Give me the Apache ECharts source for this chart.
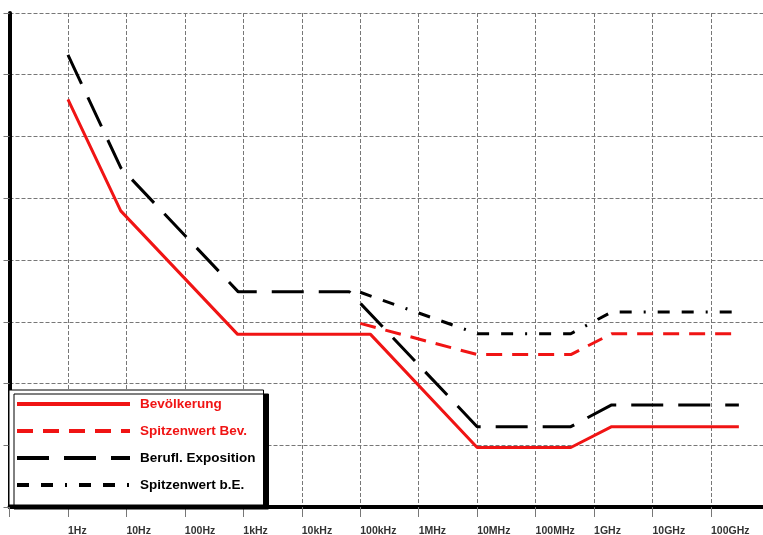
<!DOCTYPE html>
<html>
<head>
<meta charset="utf-8">
<script src="https://cdn.jsdelivr.net/npm/echarts@6/dist/echarts.min.js"></script>
<style>
html,body{margin:0;padding:0;background:#fff;}
#chart{width:763px;height:535px;}
</style>
</head>
<body>
<div id="chart"></div>
<script>
// Frequency tick labels (decades from 1 Hz to 100 GHz)
const tickLabels = ['1Hz','10Hz','100Hz','1kHz','10kHz','100kHz','1MHz','10MHz','100MHz','1GHz','10GHz','100GHz'];

// Series names
const seriesNames = ['Bevölkerung','Spitzenwert Bev.','Berufl. Exposition','Spitzenwert b.E.'];

// Bevölkerung: [frequency Hz, value]
const bevFreq  = [1, 8, 800, 1.5e5, 1e7, 4e8, 2e9, 3e11];
const bevVal   = [4e4, 625, 6.25, 6.25, 0.092, 0.092, 0.2, 0.2];

// Spitzenwert Bev.
const spBevFreq = [1e5, 1e7, 4e8, 2e9, 3e11];
const spBevVal  = [9.4, 2.94, 2.94, 6.4, 6.4];

// Berufl. Exposition
const berFreq = [1, 8, 820, 6.5e4, 1e7, 4e8, 2e9, 3e11];
const berVal  = [2.1e5, 3125, 30.5, 30.7, 0.2, 0.2, 0.45, 0.45];

// Spitzenwert b.E.
const spBeFreq = [1e5, 1e7, 4e8, 2e9, 3e11];
const spBeVal  = [30, 6.4, 6.4, 14.4, 14.4];

function pairs(f, v){ return f.map((x,i)=>[x, v[i]]); }

const RED = '#f01414';
const BLACK = '#000000';

const chart = echarts.init(document.getElementById('chart'), null, {renderer:'canvas'});

const gridLine = {show:true, lineStyle:{color:'#777', width:1, type:[4,2]}};

chart.setOption({
  animation:false,
  backgroundColor:'#ffffff',
  grid:{left:9.5, right:0, top:13, bottom:28, containLabel:false, outerBoundsMode:'none'},
  xAxis:{
    type:'log', logBase:10, min:0.1, max:7.76e11, interval:1,
    axisLine:{show:true, lineStyle:{color:'#000', width:4}},
    axisTick:{show:true, inside:false, length:10, lineStyle:{color:'#777', width:1}},
    splitLine:gridLine,
    axisLabel:{
      show:true, margin:19, align:'left',
      color:'#333', fontFamily:'Liberation Sans, Arial, sans-serif', fontSize:10.5, fontWeight:'bold',
      formatter:function(v){
        const e = Math.log10(v);
        const k = Math.round(e);
        if (Math.abs(e-k) > 0.01) return '';
        return (k>=0 && k<tickLabels.length) ? tickLabels[k] : '';
      }
    }
  },
  yAxis:{
    type:'log', logBase:10, min:0.01, max:1e6, interval:1,
    axisLine:{show:true, lineStyle:{color:'#000', width:4}},
    axisTick:{show:true, inside:false, length:6, lineStyle:{color:'#777', width:1}},
    splitLine:gridLine,
    axisLabel:{show:false}
  },
  legend:{
    show:true, orient:'vertical', left:9, top:390,
    padding:[6,8,12,6],
    itemWidth:113, itemHeight:16, itemGap:11,
    backgroundColor:'#ffffff', borderColor:'#000', borderWidth:1,
    shadowColor:'#000', shadowBlur:0, shadowOffsetX:5, shadowOffsetY:4,
    textStyle:{fontFamily:'Liberation Sans, Arial, sans-serif', fontSize:13.5, fontWeight:'bold', padding:[0,0,0,5], lineHeight:16},
    lineStyle:{width:4},
    itemStyle:{color:'rgba(0,0,0,0)', borderWidth:0, opacity:0},
    data:[
      {name:seriesNames[0], textStyle:{color:RED}},
      {name:seriesNames[1], textStyle:{color:RED}},
      {name:seriesNames[2], textStyle:{color:BLACK}},
      {name:seriesNames[3], textStyle:{color:BLACK}}
    ]
  },
  series:[
    {name:seriesNames[2], type:'line', symbol:'none', data:pairs(berFreq, berVal), color:BLACK,
     lineStyle:{color:BLACK, width:3, type:[32,15], cap:'butt'}, z:3},
    {name:seriesNames[3], type:'line', symbol:'none', data:pairs(spBeFreq, spBeVal), color:BLACK,
     lineStyle:{color:BLACK, width:3, type:[12,12,12,12,2,12], cap:'butt'}, z:3},
    {name:seriesNames[1], type:'line', symbol:'none', data:pairs(spBevFreq, spBevVal), color:RED,
     lineStyle:{color:RED, width:3, type:[16,10], cap:'butt'}, z:4},
    {name:seriesNames[0], type:'line', symbol:'none', data:pairs(bevFreq, bevVal), color:RED,
     lineStyle:{color:RED, width:3, type:'solid'}, z:5}
  ]
});
</script>
</body>
</html>
